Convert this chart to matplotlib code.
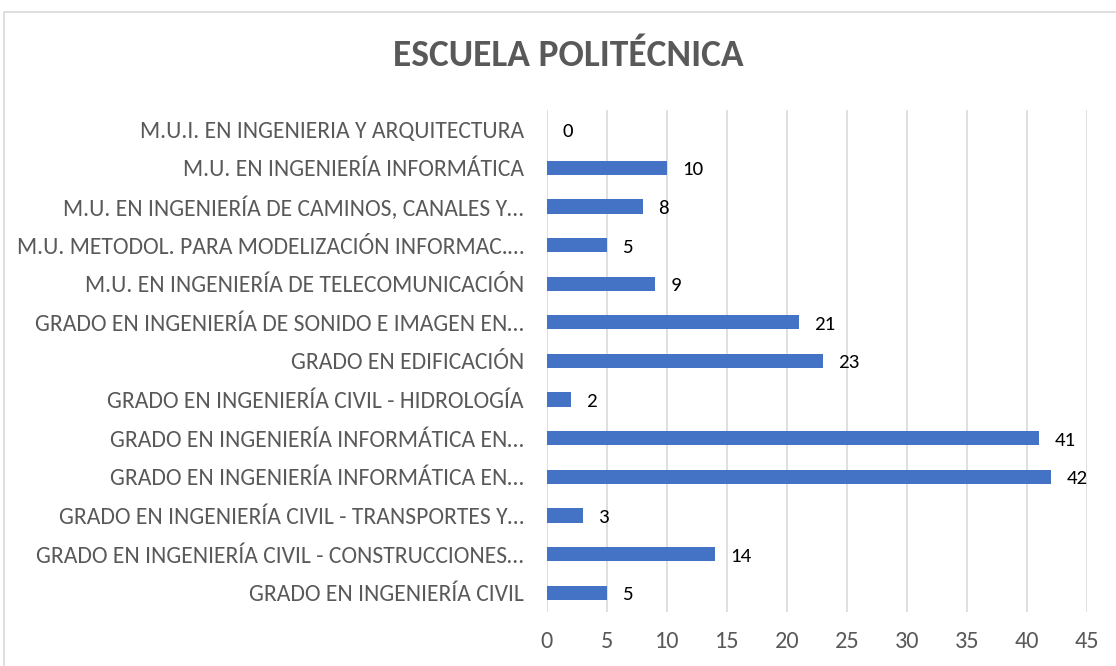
import matplotlib.pyplot as plt
from matplotlib import font_manager
from matplotlib.patches import Rectangle

# categories bottom -> top
categories = [
    'GRADO EN INGENIERÍA CIVIL',
    'GRADO EN INGENIERÍA CIVIL - CONSTRUCCIONES…',
    'GRADO EN INGENIERÍA CIVIL - TRANSPORTES Y…',
    'GRADO EN INGENIERÍA INFORMÁTICA EN…',
    'GRADO EN INGENIERÍA INFORMÁTICA EN…',
    'GRADO EN INGENIERÍA CIVIL - HIDROLOGÍA',
    'GRADO EN EDIFICACIÓN',
    'GRADO EN INGENIERÍA DE SONIDO E IMAGEN EN…',
    'M.U. EN INGENIERÍA DE TELECOMUNICACIÓN',
    'M.U. METODOL. PARA MODELIZACIÓN INFORMAC.…',
    'M.U. EN INGENIERÍA DE CAMINOS, CANALES Y…',
    'M.U. EN INGENIERÍA INFORMÁTICA',
    'M.U.I. EN INGENIERIA Y ARQUITECTURA',
]
values = [5, 14, 3, 42, 41, 2, 23, 21, 9, 5, 8, 10, 0]
xticks = [0, 5, 10, 15, 20, 25, 30, 35, 40, 45]

installed = {f.name for f in font_manager.fontManager.ttflist}
fam = [f for f in ['Carlito', 'Liberation Sans Narrow', 'DejaVu Sans'] if f in installed]
plt.rcParams['font.family'] = fam

grey = '#595959'
fig = plt.figure(figsize=(11.16, 6.66), dpi=100)
fig.patches.append(Rectangle((0.004, -0.02), 1.1, 1.002, transform=fig.transFigure,
                             fill=False, edgecolor='#d9d9d9', linewidth=1.2))
ax = fig.add_axes([0.490, 0.081, 0.484, 0.754])

y = range(len(categories))
ax.barh(y, values, height=0.37, color='#4472C4', zorder=3)
for yi, v in zip(y, values):
    ax.text(v + 1.3, yi - 0.05, str(v), va='center', ha='left', fontsize=15, color='black')

ax.set_xlim(0, 45)
ax.set_ylim(-0.5, len(categories) - 0.5)
ax.set_xticks(xticks)
ax.set_yticks(list(y))
ax.set_yticklabels(categories)
ax.tick_params(axis='y', length=0, pad=16.5, labelsize=17, labelcolor=grey)
ax.tick_params(axis='x', length=0, pad=14, labelsize=17.5, labelcolor=grey)
ax.grid(axis='x', color='#d9d9d9', linewidth=1.2, zorder=0)
for s in ax.spines.values():
    s.set_visible(False)

fig.text(0.509, 0.917, 'ESCUELA POLITÉCNICA', ha='center', va='center',
         fontsize=27, fontweight='bold', color=grey)

fig.savefig('out.png', dpi=100)
